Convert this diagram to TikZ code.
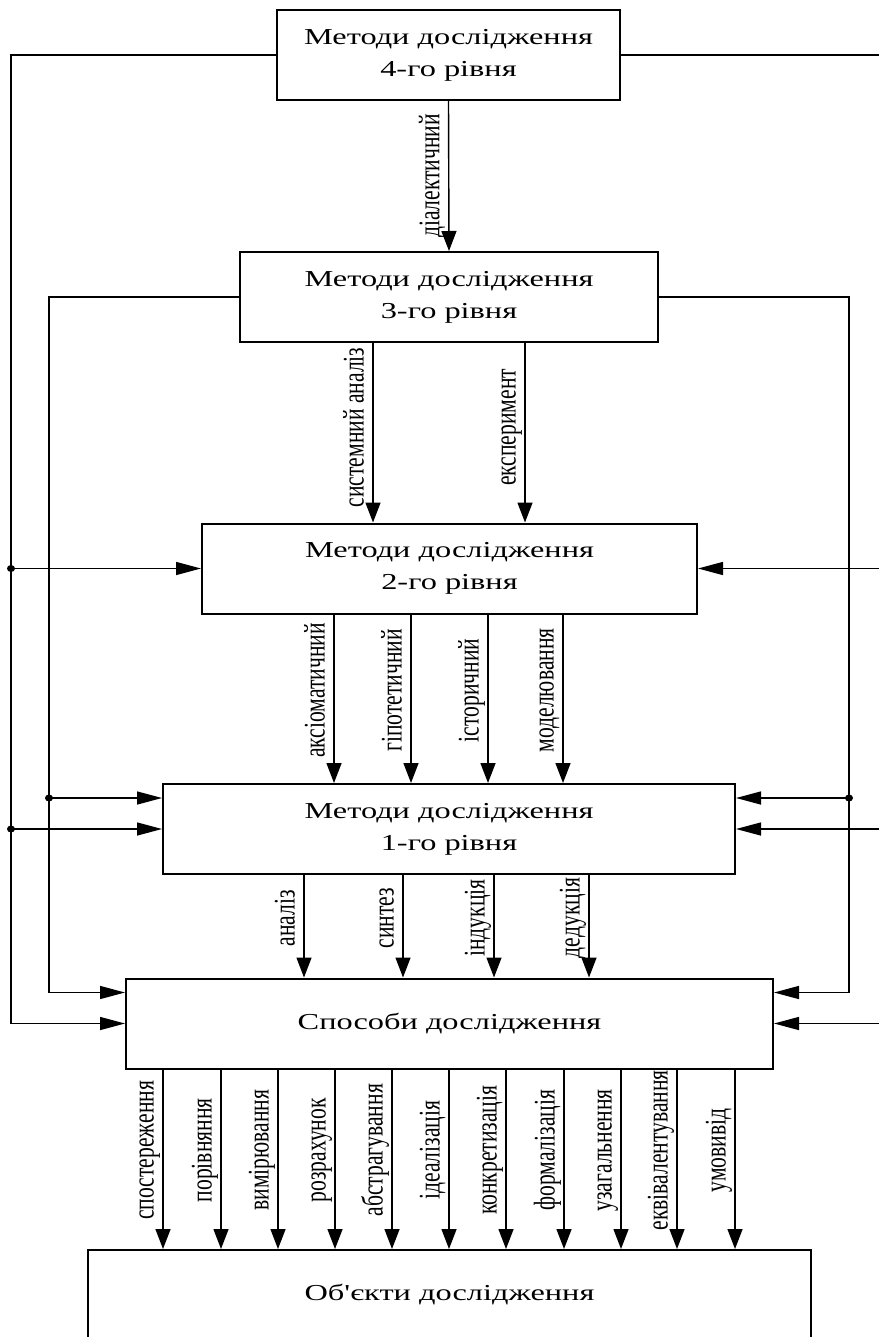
\documentclass[tikz,border=0pt]{standalone}
\usepackage{fontspec}
\setmainfont{Liberation Serif}
\newfontfamily\boxfont[FakeStretch=1.42]{Liberation Serif}
\newfontfamily\tagfont[FakeStretch=0.72]{Liberation Serif}
\usetikzlibrary{arrows.meta}
\tikzset{
    x=0.5pt, y=-0.5pt, % one unit is one pixel of the scan, y runs down
    level/.style={draw, line width=1pt, minimum height=45pt, inner sep=0pt, align=center,
        font=\boxfont\fontsize{11.4}{16}\selectfont}, % the boxes of the levels
    feed/.style={line width=0.7pt}, % all connectors
    harrow/.style={feed, -{Triangle[length=12.5pt, width=6.5pt]}}, % arrows from the side rails
    varrow/.style={feed, -{Triangle[length=10pt, width=7.5pt]}}, % arrows going down
    tag/.style={rotate=90, anchor=south, inner xsep=0pt, inner ysep=1pt, text depth=3.3pt,
        font=\tagfont\fontsize{15}{18}\selectfont}, % upright labels left of an arrow
}
\def\joint{ellipse [x radius=2pt, y radius=1.75pt]}

\begin{document}
\begin{tikzpicture}
    \useasboundingbox (0,0) rectangle (878,1337);

    \node[level, minimum width=171.5pt] (lvlfour) at (448.5,55) {Методи дослідження\\4-го рівня};
    \node[level, minimum width=209pt] (lvlthree) at (449,297) {Методи дослідження\\3-го рівня};
    \node[level, minimum width=247.5pt] (lvltwo) at (449.5,568.5) {Методи дослідження\\2-го рівня};
    \node[level, minimum width=286pt] (lvlone) at (449,829) {Методи дослідження\\1-го рівня};
    \node[level, minimum width=323.5pt] (ways) at (449.5,1023.5) {Способи дослідження};
    \node[level, minimum width=361.5pt] (objects) at (449.5,1295) {Об'єкти дослідження};

    \coordinate (outL) at (11,0);
    \coordinate (inL) at (49,0);
    \coordinate (inR) at (849,0);
    \coordinate (outR) at (887,0);
    \coordinate (onehi) at ([yshift=15.5pt]lvlone.west);
    \coordinate (onehiR) at ([yshift=15.5pt]lvlone.east);
    \coordinate (wayshi) at ([yshift=15.5pt]ways.west);
    \coordinate (wayshiR) at ([yshift=15.5pt]ways.east);

    \draw[harrow] (lvlfour.west) -| (outL |- ways.west) -- (ways.west);
    \draw[harrow] (outL |- lvltwo.west) -- (lvltwo.west);
    \draw[harrow] (outL |- lvlone.west) -- (lvlone.west);
    \draw[harrow] (lvlthree.west) -| (inL |- wayshi) -- (wayshi);
    \draw[harrow] (inL |- onehi) -- (onehi);
    \fill (outL |- lvltwo.west) \joint;
    \fill (outL |- lvlone.west) \joint;
    \fill (inL |- onehi) \joint;

    \draw[harrow] (lvlfour.east) -| (outR |- ways.east) -- (ways.east);
    \draw[harrow] (outR |- lvltwo.east) -- (lvltwo.east);
    \draw[harrow] (outR |- lvlone.east) -- (lvlone.east);
    \draw[harrow] (lvlthree.east) -| (inR |- wayshiR) -- (wayshiR);
    \draw[harrow] (inR |- onehiR) -- (onehiR);
    \fill (inR |- onehiR) \joint;

    \draw[varrow] (lvlfour.south) -- (lvlthree.north) node[tag, pos=.5] {діалектичний};

    \draw[varrow] (373,0 |- lvlthree.south) -- (373,0 |- lvltwo.north) node[tag, pos=.47] {системний аналіз};
    \draw[varrow] (525,0 |- lvlthree.south) -- (525,0 |- lvltwo.north) node[tag, pos=.47] {експеримент};

    \draw[varrow] (334,0 |- lvltwo.south) -- (334,0 |- lvlone.north) node[tag, pos=.45] {аксіоматичний};
    \draw[varrow] (411,0 |- lvltwo.south) -- (411,0 |- lvlone.north) node[tag, pos=.45] {гіпотетичний};
    \draw[varrow] (488,0 |- lvltwo.south) -- (488,0 |- lvlone.north) node[tag, pos=.45] {історичний};
    \draw[varrow] (563,0 |- lvltwo.south) -- (563,0 |- lvlone.north) node[tag, pos=.45] {моделювання};

    \draw[varrow] (304,0 |- lvlone.south) -- (304,0 |- ways.north) node[tag, pos=.42] {аналіз};
    \draw[varrow] (403,0 |- lvlone.south) -- (403,0 |- ways.north) node[tag, pos=.42] {синтез};
    \draw[varrow] (494,0 |- lvlone.south) -- (494,0 |- ways.north) node[tag, pos=.42] {індукція};
    \draw[varrow] (589,0 |- lvlone.south) -- (589,0 |- ways.north) node[tag, pos=.42] {дедукція};

    \draw[varrow] (163,0 |- ways.south) -- (163,0 |- objects.north) node[tag, pos=.45] {спостереження};
    \draw[varrow] (221,0 |- ways.south) -- (221,0 |- objects.north) node[tag, pos=.45] {порівняння};
    \draw[varrow] (278,0 |- ways.south) -- (278,0 |- objects.north) node[tag, pos=.45] {вимірювання};
    \draw[varrow] (335,0 |- ways.south) -- (335,0 |- objects.north) node[tag, pos=.45] {розрахунок};
    \draw[varrow] (392,0 |- ways.south) -- (392,0 |- objects.north) node[tag, pos=.45] {абстрагування};
    \draw[varrow] (449,0 |- ways.south) -- (449,0 |- objects.north) node[tag, pos=.45] {ідеалізація};
    \draw[varrow] (506,0 |- ways.south) -- (506,0 |- objects.north) node[tag, pos=.45] {конкретизація};
    \draw[varrow] (564,0 |- ways.south) -- (564,0 |- objects.north) node[tag, pos=.45] {формалізація};
    \draw[varrow] (621,0 |- ways.south) -- (621,0 |- objects.north) node[tag, pos=.45] {узагальнення};
    \draw[varrow] (677,0 |- ways.south) -- (677,0 |- objects.north) node[tag, pos=.45] {еквівалентування};
    \draw[varrow] (735,0 |- ways.south) -- (735,0 |- objects.north) node[tag, pos=.45] {умовивід};
\end{tikzpicture}
\end{document}
